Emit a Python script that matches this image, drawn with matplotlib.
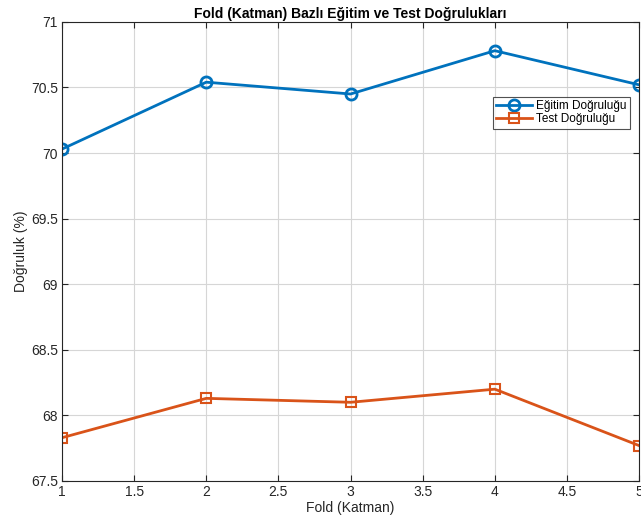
import matplotlib
matplotlib.use("Agg")
import matplotlib.pyplot as plt

folds = [1, 2, 3, 4, 5]
train_acc = [70.03, 70.54, 70.45, 70.78, 70.52]
test_acc = [67.83, 68.13, 68.10, 68.20, 67.77]

plt.rcParams['font.family'] = ['Liberation Sans', 'DejaVu Sans']

fig = plt.figure(figsize=(6.41, 5.2), dpi=100)
ax = fig.add_axes([0.0967, 0.075, 0.9003, 0.883])

ax.plot(folds, train_acc, '-o', color='#0072BD', lw=2, ms=8, mfc='none', mew=2,
        label='Eğitim Doğruluğu')
ax.plot(folds, test_acc, '-s', color='#D95319', lw=2, ms=7, mfc='none', mew=1.5,
        label='Test Doğruluğu')

ax.set_xlim(1, 5)
ax.set_ylim(67.5, 71)
ax.set_xticks([1, 1.5, 2, 2.5, 3, 3.5, 4, 4.5, 5])
ax.set_xticklabels(['1', '1.5', '2', '2.5', '3', '3.5', '4', '4.5', '5'])
ax.set_yticks([67.5, 68, 68.5, 69, 69.5, 70, 70.5, 71])
ax.set_yticklabels(['67.5', '68', '68.5', '69', '69.5', '70', '70.5', '71'])
ax.grid(True, color='#d6d6d6', lw=0.8)
ax.set_axisbelow(True)
ax.tick_params(direction='in', top=True, right=True, length=4, width=0.8,
               colors='#262626', labelsize=10, pad=3)
for s in ax.spines.values():
    s.set_color('#262626')
    s.set_linewidth(0.8)

ax.set_xlabel('Fold (Katman)', fontsize=10, color='#262626', labelpad=1)
ax.set_ylabel('Doğruluk (%)', fontsize=10, color='#262626', labelpad=2)
ax.set_title('Fold (Katman) Bazlı Eğitim ve Test Doğrulukları', fontsize=10,
             fontweight='bold', pad=3)

leg = ax.legend(loc='upper right', bbox_to_anchor=(0.995, 0.85), fontsize=8.5,
                frameon=True, fancybox=False, edgecolor='#262626',
                borderpad=0.3, handlelength=3, handletextpad=0.4, labelspacing=0.1)
leg.get_frame().set_linewidth(0.8)

fig.savefig('out.png', dpi=100)
